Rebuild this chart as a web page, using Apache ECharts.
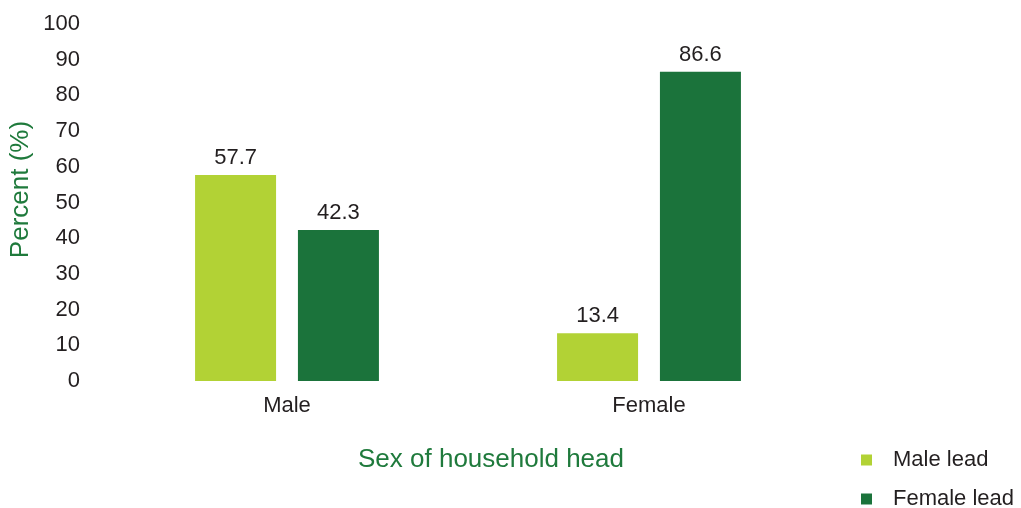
<!DOCTYPE html>
<html>
<head>
<meta charset="utf-8">
<script src="https://cdn.jsdelivr.net/npm/echarts@6/dist/echarts.min.js"></script>
<style>
  html, body { margin: 0; padding: 0; background: #fff; }
  #chart { width: 1021px; height: 508px; }
</style>
</head>
<body>
<div id="chart"></div>
<script>
// Share of households by who leads, split by sex of household head
const categories = ['Male', 'Female'];
const seriesNames = ['Male lead', 'Female lead'];
const maleLead = [57.7, 13.4];
const femaleLead = [42.3, 86.6];
const yTicks = { min: 0, max: 100, interval: 10 };

const LIGHT = '#b2d235';
const DARK = '#1b733b';
const TITLE_GREEN = '#1f7a3c';
const TEXT = '#231f20';
const FONT = '"Liberation Sans", Arial, sans-serif';
const FS = 22;

const chart = echarts.init(document.getElementById('chart'));

const labelStyle = {
  show: true,
  position: 'top',
  distance: 6,
  color: TEXT,
  fontSize: FS,
  fontFamily: FONT
};

chart.setOption({
  animation: false,
  textStyle: { fontFamily: FONT },
  grid: { left: 106, right: 191, top: 24, bottom: 127, outerBoundsMode: 'none', containLabel: false },
  legend: {
    orient: 'vertical',
    left: 861,
    top: 449,
    padding: 0,
    width: 160,
    height: 62,
    itemWidth: 11,
    itemHeight: 11,
    itemGap: 17,
    icon: 'rect',
    textStyle: { color: TEXT, fontSize: FS, fontFamily: FONT, padding: [0, 0, 0, 16] },
    data: seriesNames
  },
  xAxis: {
    type: 'category',
    data: categories,
    axisLine: { show: false },
    axisTick: { show: false },
    axisLabel: { color: TEXT, fontSize: FS, margin: 14, fontFamily: FONT },
    name: 'Sex of household head',
    nameLocation: 'middle',
    nameGap: 66,
    nameMoveOverlap: false,
    nameTextStyle: { color: TITLE_GREEN, fontSize: 26, fontFamily: FONT, padding: [0, 0, 0, 46] }
  },
  yAxis: {
    type: 'value',
    min: yTicks.min,
    max: yTicks.max,
    interval: yTicks.interval,
    splitLine: { show: false },
    axisLine: { show: false },
    axisTick: { show: false },
    axisLabel: { color: TEXT, fontSize: FS, margin: 26, fontFamily: FONT },
    name: 'Percent (%)',
    nameLocation: 'middle',
    nameGap: 72,
    nameMoveOverlap: false,
    nameTextStyle: { color: TITLE_GREEN, fontSize: 26, fontFamily: FONT, padding: [0, 0, 0, 26] }
  },
  series: [
    {
      name: seriesNames[0],
      type: 'bar',
      data: maleLead,
      barWidth: 81,
      barGap: '27%',
      itemStyle: { color: LIGHT },
      label: labelStyle
    },
    {
      name: seriesNames[1],
      type: 'bar',
      data: femaleLead,
      barWidth: 81,
      itemStyle: { color: DARK },
      label: labelStyle
    }
  ]
});
</script>
</body>
</html>
